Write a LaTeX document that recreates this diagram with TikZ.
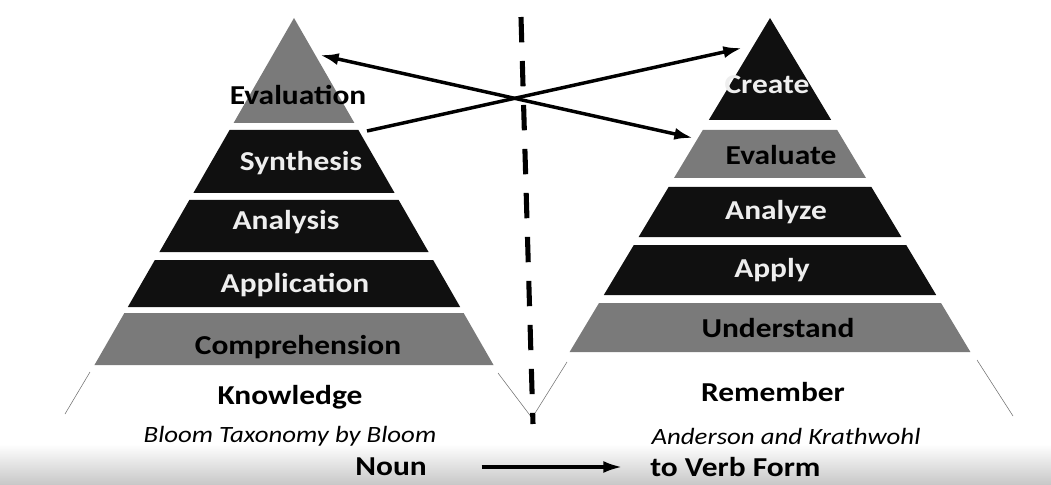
\documentclass[tikz,border=0pt]{standalone}
\usepackage{fontspec}
\setmainfont{Carlito}[FakeStretch=1.15]
\usepackage{tikz}
\usetikzlibrary{arrows.meta,positioning}
\definecolor{tierblack}{RGB}{16,16,16}
\definecolor{tiergray}{RGB}{122,122,122}
\definecolor{tiertext}{RGB}{238,238,238}
\definecolor{edgegray}{RGB}{110,110,110}
\newcommand{\tier}[5]{\fill[#5] ({#1-#2*(#3-18)},#3) -- ({#1+#2*(#3-18)},#3) -- ({#1+#2*(#4-18)},#4) -- ({#1-#2*(#4-18)},#4) -- cycle;}

\begin{document}
\begin{tikzpicture}[x=0.75pt,y=-0.75pt,
  lbl/.style={font=\fontsize{20.5}{22}\selectfont\bfseries,inner sep=0pt},
  byline/.style={font=\fontsize{17.5}{19}\selectfont\itshape,inner sep=0pt},
  link/.style={line width=2.6pt,-{Latex[length=14pt,width=9pt]}}]
\useasboundingbox (0,0) rectangle (1051,485);
\shade[top color=white, bottom color=black!22] (0,444) rectangle (1051,485);

\fill[tiergray] (294,18) -- (233.6,123) -- (354.4,123) -- cycle;
\tier{294}{0.575}{130}{193}{tierblack}
\tier{294}{0.575}{200}{252}{tierblack}
\tier{294}{0.575}{260}{307}{tierblack}
\tier{294}{0.575}{313}{365}{tiergray}
\draw[edgegray,thin] (90,372) -- (65,414);
\draw[edgegray,thin] (498,373) -- (532,418);

\fill[tierblack] (770,18) -- (708.8,120) -- (831.2,120) -- cycle;
\tier{770}{0.6}{130}{178}{tiergray}
\tier{770}{0.6}{187}{237}{tierblack}
\tier{770}{0.6}{245}{295}{tierblack}
\tier{770}{0.6}{303}{352}{tiergray}
\draw[edgegray,thin] (567,362) -- (532,418);
\draw[edgegray,thin] (977,360) -- (1013,416);

\coordinate (dashTop) at (521,17);
\coordinate (dashBot) at (533,424);
\draw[line width=3.8pt, dash pattern=on 19pt off 14pt] (dashTop) -- (dashBot);

\node[lbl] (lEval) at (298,95) {Evaluation};
\node[lbl,text=tiertext] (lSynth) at (301,163) {Synthesis};
\node[lbl,text=tiertext] (lAnal) at (286,222) {Analysis};
\node[lbl,text=tiertext] (lAppl) at (295,285) {Application};
\node[lbl] (lComp) at (298,347) {Comprehension};
\node[lbl] (lKnow) at (290,397) {Knowledge};
\node[byline] (lName) at (290,436) {Bloom Taxonomy by Bloom};

\node[lbl,text=tiertext] (rCreate) at (767,85) {Create};
\node[lbl] (rEval) at (781,155) {Evaluate};
\node[lbl,text=tiertext] (rAnal) at (776,212) {Analyze};
\node[lbl,text=tiertext] (rApply) at (772,270) {Apply};
\node[lbl] (rUnder) at (778,328) {Understand};
\node[lbl] (rRem) at (773,392) {Remember};
\node[byline] (rName) at (786,436) {Anderson and Krathwohl};

\coordinate (evalTip) at (320,55);
\coordinate (evaluateTip) at (693,138);
\coordinate (synthEnd) at (367,131);
\coordinate (createTip) at (742,48);
\draw[link,{Latex[length=14pt,width=9pt]}-{Latex[length=14pt,width=9pt]}] (evalTip) -- (evaluateTip);
\draw[link] (synthEnd) -- (createTip);

\node[lbl,anchor=east] (noun) at (427,467) {Noun};
\node[lbl,anchor=west] (verb) at (650,467) {to Verb Form};
\draw[link,line width=2.4pt,shorten <=41pt,shorten >=21pt] (noun.east) -- (verb.west);
\end{tikzpicture}
\end{document}
